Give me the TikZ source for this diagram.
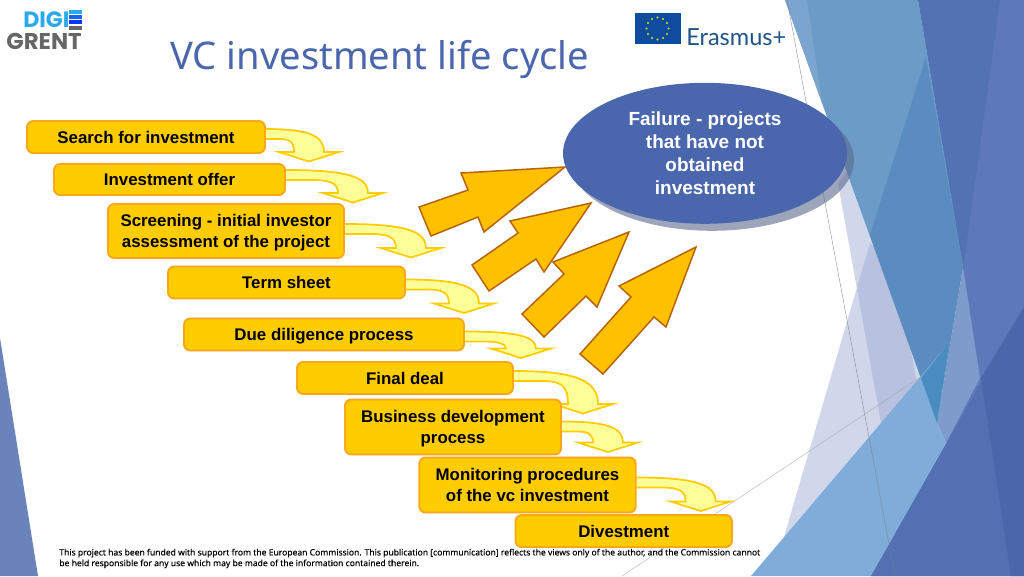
\documentclass[tikz,border=0pt]{standalone}
\usepackage{fontspec}
\setmainfont{Liberation Sans}
\newfontfamily\titlefont{Noto Sans}
\newfontfamily\footfont[FakeBold=0.25]{Noto Sans}
\newfontfamily\logofont{Poppins}
\newfontfamily\erasmusfont{Lato}
\usetikzlibrary{arrows,shapes,positioning,shadows}
\pgfdeclarelayer{backdrop}
\pgfdeclarelayer{arrowlayer}
\pgfsetlayers{backdrop,arrowlayer,main}
\definecolor{slideblue}{HTML}{4A66AC}
\definecolor{boxfill}{HTML}{FFCC00}
\definecolor{boxline}{HTML}{FBA71B}
\definecolor{bentfill}{HTML}{FFFF99}
\definecolor{bigfill}{HTML}{FFC000}
\definecolor{bigline}{HTML}{B8640C}
\definecolor{sideblue}{HTML}{6B83BB}
\definecolor{paleblue}{HTML}{9AA8D3}
\definecolor{baseblue}{HTML}{5E79B9}
\definecolor{deepblue}{HTML}{5272B4}
\definecolor{skyblue}{HTML}{6C9BC8}
\definecolor{skylight}{HTML}{7BA5CE}
\definecolor{skydark}{HTML}{5A8CBF}
\definecolor{midblue}{HTML}{7E9BCB}
\definecolor{lightblue}{HTML}{7FACD8}
\definecolor{crossblue}{HTML}{4A8CC0}
\definecolor{darkblue}{HTML}{5270B2}
\definecolor{darkerblue}{HTML}{4C66AB}
\definecolor{flagblue}{HTML}{0F4C9E}
\definecolor{erasmusblue}{HTML}{1F5486}
\definecolor{digiblue}{HTML}{2AA9EE}
\definecolor{shadowblue}{HTML}{5A6A8C}
\tikzset{
  stagebox/.style={draw=boxline,fill=boxfill,line width=1.1pt,rounded corners=3.5pt,align=center,
    inner sep=0pt,text depth=0pt,font=\fontsize{9.6}{11.7}\selectfont\bfseries},
  bigarrow/.style={draw=bigline,fill=bigfill,line width=0.85pt,line join=miter},
  pics/bentarrow/.style args={#1/#2}{code={
    \pgfmathsetmacro{\ax}{#1}
    \pgfmathsetmacro{\ay}{#2}
    \draw [draw=boxfill,fill=bentfill,line width=1pt,line join=miter]
      (0,0) .. controls ({0.75*(\ax+15)},0) and ({\ax+15},{-0.3*(\ay-11)}) .. ({\ax+15},{-(\ay-11)})
      -- ({\ax+30},{-(\ay-11)}) -- (\ax,{-(\ay-1.5)}) -- ({\ax-30},{-(\ay-11)}) -- ({\ax-15},{-(\ay-11)})
      .. controls ({\ax-15},-13) and ({0.85*(\ax-15)},-10) .. ({0.5*(\ax-15)},-10) -- (0,-10);
  }}
}
\begin{document}
\begin{tikzpicture}[x=0.02cm,y=0.02cm]
  \useasboundingbox (0,0) rectangle (1024,-576);
  % slide background
  \begin{pgfonlayer}{backdrop}
    \fill [white] (0,0) rectangle (1024,-576);
    \fill [sideblue] (0,-338) -- (38,-576) -- (0,-576) -- cycle;
    \fill [paleblue,opacity=0.45] (838,-183) -- (881,-423) -- (925,-423) -- (870,-140) -- cycle;
    \fill [paleblue,opacity=0.45] (870,-243) -- (784,-537) -- (930,-537) -- (925,-300) -- cycle;
    \fill [baseblue] (918,0) -- (1024,0) -- (1024,-576) -- (871,-576) -- (946,-443) -- (963,-267) -- cycle;
    \fill [deepblue] (918,0) -- (1000,0) -- (963,-270) -- cycle;
    \fill [skyblue] (785,0) -- (918,0) -- (963,-267) -- (937,-423) -- cycle;
    \fill [skylight] (785,0) -- (807,0) -- (822,-103) -- cycle;
    \fill [skydark] (926,-57) -- (870,-235) -- (937,-423) -- (963,-267) -- cycle;
    \fill [midblue] (963,-267) -- (937,-423) -- (946,-443) -- (980,-378) -- cycle;
    \fill [lightblue] (751,-576) -- (949,-343) -- (937,-423) -- (946,-443) -- (871,-576) -- cycle;
    \fill [crossblue] (921,-378) -- (949,-343) -- (937,-423) -- cycle;
    \fill [darkblue] (871,-576) -- (1024,-307) -- (1024,-576) -- cycle;
    \fill [darkerblue] (981,-378) -- (1011,-576) -- (1024,-576) -- (1024,-307) -- cycle;
    \draw [gray,line width=0.3pt,opacity=0.7] (787,0) -- (895,-576);
    \draw [gray!70,line width=0.3pt,opacity=0.7] (622,-576) -- (919,-378);
  \end{pgfonlayer}
  % logos and title
  \node (digi) [anchor=base west,inner sep=0pt,text=digiblue,font=\logofont\fontsize{12.6}{14}\selectfont\bfseries] at (23,-27) {DIGI};
  \fill [digiblue] (69,-10) rectangle (82,-13.5);
  \fill [blue!40!digiblue] (69,-15) rectangle (82,-18.5);
  \fill [blue!70!digiblue] (69,-20) rectangle (82,-23.5);
  \fill [black!60] (69,-26) rectangle (82,-29.5);
  \node (grent) [anchor=base west,inner sep=0pt,text=black!60,font=\logofont\fontsize{13}{14}\selectfont\bfseries] at (6,-49) {GRENT};
  \node (title) [anchor=base west,inner sep=0pt,text=slideblue,font=\titlefont\fontsize{21.7}{24}\selectfont] at (170,-69) {VC investment life cycle};
  \fill [flagblue] (635,-13) rectangle (681,-44);
  \foreach \n in {0,30,...,330}
    \fill [yellow!85!green] ({657.5+11*cos(\n)},{-28.5+11*sin(\n)}) circle (1.2);
  \node (erasmus) [anchor=base west,inner sep=0pt,text=erasmusblue,font=\erasmusfont\fontsize{13.4}{14}\selectfont] at (686,-45) {Erasmus+};
  % stages
  \node (search) [stagebox,minimum width=4.76cm,minimum height=0.64cm] at (146,-137) {Search for investment};
  \node (offer) [stagebox,minimum width=4.62cm,minimum height=0.62cm] at (169.5,-179.5) {Investment offer};
  \node (screening) [stagebox,minimum width=4.72cm,minimum height=1.08cm] at (226,-231) {Screening - initial investor\\assessment of the project};
  \node (term) [stagebox,minimum width=4.74cm,minimum height=0.64cm] at (286.5,-282.5) {Term sheet};
  \node (diligence) [stagebox,minimum width=5.6cm,minimum height=0.64cm] at (324,-334.5) {Due diligence process};
  \node (deal) [stagebox,minimum width=4.32cm,minimum height=0.64cm] at (405,-378) {Final deal};
  \node (business) [stagebox,minimum width=4.32cm,minimum height=1.1cm] at (453,-427) {Business development\\process};
  \node (monitoring) [stagebox,minimum width=4.33cm,minimum height=1.1cm] at (527.5,-485) {Monitoring procedures\\of the vc investment};
  \node (divestment) [stagebox,minimum width=4.33cm,minimum height=0.64cm] at (623.75,-531) {Divestment};
  % failure
  \node (failure) [ellipse,fill=slideblue,text=white,align=center,inner sep=0pt,minimum width=5.68cm,minimum height=2.82cm,
    font=\fontsize{10.8}{13}\selectfont\bfseries,
    drop shadow={shadow xshift=0.14cm,shadow yshift=-0.14cm,opacity=0.6,fill=shadowblue}] at (705,-153.3)
    {Failure - projects\\that have not\\obtained\\investment};
  % arrows under the boxes
  \begin{pgfonlayer}{arrowlayer}
    \pic at ([yshift=0.16cm]search.east) {bentarrow=43/34};
    \pic at ([yshift=0.19cm]offer.east) {bentarrow=67/34};
    \pic at ([yshift=0.14cm]screening.east) {bentarrow=66/35};
    \pic at ([yshift=0.06cm]term.east) {bentarrow=58/35};
    \pic at ([yshift=0.06cm]diligence.east) {bentarrow=56/28};
    \pic at ([yshift=0.14cm]deal.east) {bentarrow=69/44};
    \pic at ([yshift=0.11cm]business.east) {bentarrow=46/32};
    \pic at ([yshift=0.15cm]monitoring.east) {bentarrow=64/35};
    \draw [bigarrow] (565,-167) -- (461,-173) -- (468,-190) -- (419,-207) -- (431,-236) -- (478,-217) -- (484,-232) -- cycle;
    \draw [bigarrow] (591,-203) -- (510,-221) -- (518,-233) -- (472,-265) -- (489,-291) -- (536,-259) -- (544,-272) -- cycle;
    \draw [bigarrow] (629,-232) -- (553,-262) -- (564,-274) -- (522,-314) -- (544,-337) -- (586,-296) -- (597,-307) -- cycle;
    \draw [bigarrow] (696,-247) -- (619,-286) -- (631,-297) -- (580,-354) -- (603,-374) -- (654,-317) -- (666,-327) -- cycle;
  \end{pgfonlayer}
  % funding note
  \node (note) [anchor=north west,inner sep=0pt,align=left,font=\footfont\fontsize{4.87}{6.1}\selectfont] at (59,-548.5)
    {This project has been funded with support from the European Commission. This publication [communication] reflects the views only of the author, and the Commission cannot\\be held responsible for any use which may be made of the information contained therein.};
\end{tikzpicture}
\end{document}
